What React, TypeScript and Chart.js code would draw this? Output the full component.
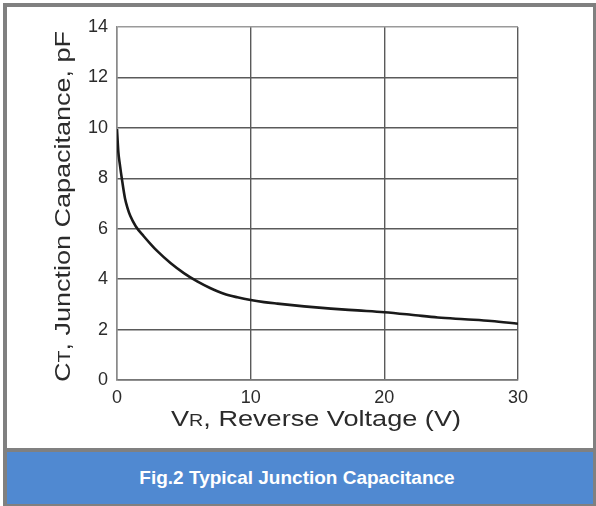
import React, { useEffect, useRef } from "react";
import { Chart, registerables } from "chart.js";

Chart.register(...registerables);

const voltage = [0, 0.1, 0.2, 0.4, 0.6, 0.8, 1.0, 1.4, 2, 2.5, 3, 4, 5, 6, 7, 8, 9, 10, 11, 12, 14, 16, 18, 20, 22, 24, 26, 28, 30];
const capacitance = [9.95, 9.05, 8.6, 7.85, 7.2, 6.8, 6.5, 6.1, 5.7, 5.4, 5.12, 4.64, 4.24, 3.91, 3.64, 3.42, 3.28, 3.17, 3.09, 3.03, 2.92, 2.83, 2.76, 2.69, 2.59, 2.48, 2.41, 2.34, 2.23];
const xTicks = [0, 10, 20, 30];
const yTicks = [0, 2, 4, 6, 8, 10, 12, 14];
const xTitleParts = [
  { text: "V", small: false },
  { text: "R", small: true },
  { text: ", Reverse Voltage (V)", small: false },
];
const yTitleParts = [
  { text: "C", small: false },
  { text: "T", small: true },
  { text: ", Junction Capacitance, pF", small: false },
];
const figTitle = "Fig.2 Typical Junction Capacitance";

const FONT = '"Liberation Sans", Arial, Helvetica, sans-serif';

function drawParts(
  ctx: CanvasRenderingContext2D,
  parts: { text: string; small: boolean }[],
  x: number,
  y: number,
  length: number,
  rotate: boolean
) {
  const big = `22px ${FONT}`;
  const small = `16px ${FONT}`;
  let w = 0;
  for (const p of parts) {
    ctx.font = p.small ? small : big;
    w += ctx.measureText(p.text).width;
  }
  const s = length / w;
  ctx.save();
  ctx.translate(x, y);
  if (rotate) ctx.rotate(-Math.PI / 2);
  ctx.scale(s, 1);
  ctx.fillStyle = "#2b2b2b";
  ctx.textBaseline = "alphabetic";
  ctx.textAlign = "left";
  let cx = 0;
  for (const p of parts) {
    ctx.font = p.small ? small : big;
    ctx.fillText(p.text, cx, 0);
    cx += ctx.measureText(p.text).width;
  }
  ctx.restore();
}

const titlePlugin = {
  id: "axisTitles",
  afterDraw(chart: any) {
    const ctx = chart.ctx as CanvasRenderingContext2D;
    const area = chart.chartArea;
    drawParts(ctx, xTitleParts, area.left + 54, area.bottom + 46, 290, false);
    drawParts(ctx, yTitleParts, area.left - 47, area.bottom + 2, 351, true);
  },
};

export default function App() {
  const ref = useRef<HTMLCanvasElement | null>(null);

  useEffect(() => {
    if (!ref.current) return;
    const chart = new Chart(ref.current, {
      type: "line",
      data: {
        datasets: [
          {
            data: voltage.map((v, i) => ({ x: v, y: capacitance[i] })),
            borderColor: "#1a1a1a",
            borderWidth: 2.6,
            pointRadius: 0,
            cubicInterpolationMode: "monotone",
            fill: false,
          },
        ],
      },
      options: {
        animation: false,
        responsive: false,
        maintainAspectRatio: false,
        layout: { padding: { left: 0, top: 20, right: 75, bottom: 0 } },
        plugins: {
          legend: { display: false },
          tooltip: { enabled: false },
          title: { display: false },
        },
        scales: {
          x: {
            type: "linear",
            min: 0,
            max: 30,
            afterBuildTicks: (axis: any) => {
              axis.ticks = xTicks.map((v) => ({ value: v }));
            },
            afterFit: (axis: any) => {
              axis.height = 68;
            },
            grid: { color: "#5a5a5a", lineWidth: 1.4, drawTicks: false },
            border: { color: "#777777", width: 1.4 },
            ticks: {
              color: "#2b2b2b",
              padding: 7,
              font: { family: FONT, size: 18 },
            },
          },
          y: {
            type: "linear",
            min: 0,
            max: 14,
            afterBuildTicks: (axis: any) => {
              axis.ticks = yTicks.map((v) => ({ value: v }));
            },
            afterFit: (axis: any) => {
              axis.width = 110;
            },
            grid: {
              color: (c: any) => (c.tick && c.tick.value === 14 ? "#9a9a9a" : "#5a5a5a"),
              lineWidth: 1.4,
              drawTicks: false,
            },
            border: { color: "#8a8a8a", width: 1.4 },
            ticks: {
              color: "#2b2b2b",
              padding: 9,
              font: { family: FONT, size: 18 },
            },
          },
        },
      },
      plugins: [titlePlugin],
    } as any);
    return () => chart.destroy();
  }, []);

  return (
    <div style={{ position: "fixed", left: 0, top: 0, width: 596, height: 506, background: "#ffffff" }}>
      <div style={{ position: "absolute", left: 3, top: 3, width: 593, height: 503, background: "#808080" }} />
      <div style={{ position: "absolute", left: 7, top: 7, width: 586, height: 441, background: "#ffffff" }}>
        <canvas ref={ref} width={586} height={441} style={{ display: "block", width: 586, height: 441 }} />
      </div>
      <div
        style={{
          position: "absolute",
          left: 7,
          top: 452,
          width: 586,
          height: 52,
          background: "#5089d1",
          color: "#ffffff",
          fontFamily: FONT,
          fontWeight: "bold",
          fontSize: 19,
          display: "flex",
          alignItems: "center",
          justifyContent: "center",
        }}
      >
        <span style={{ position: "relative", left: -3 }}>{figTitle}</span>
      </div>
    </div>
  );
}
